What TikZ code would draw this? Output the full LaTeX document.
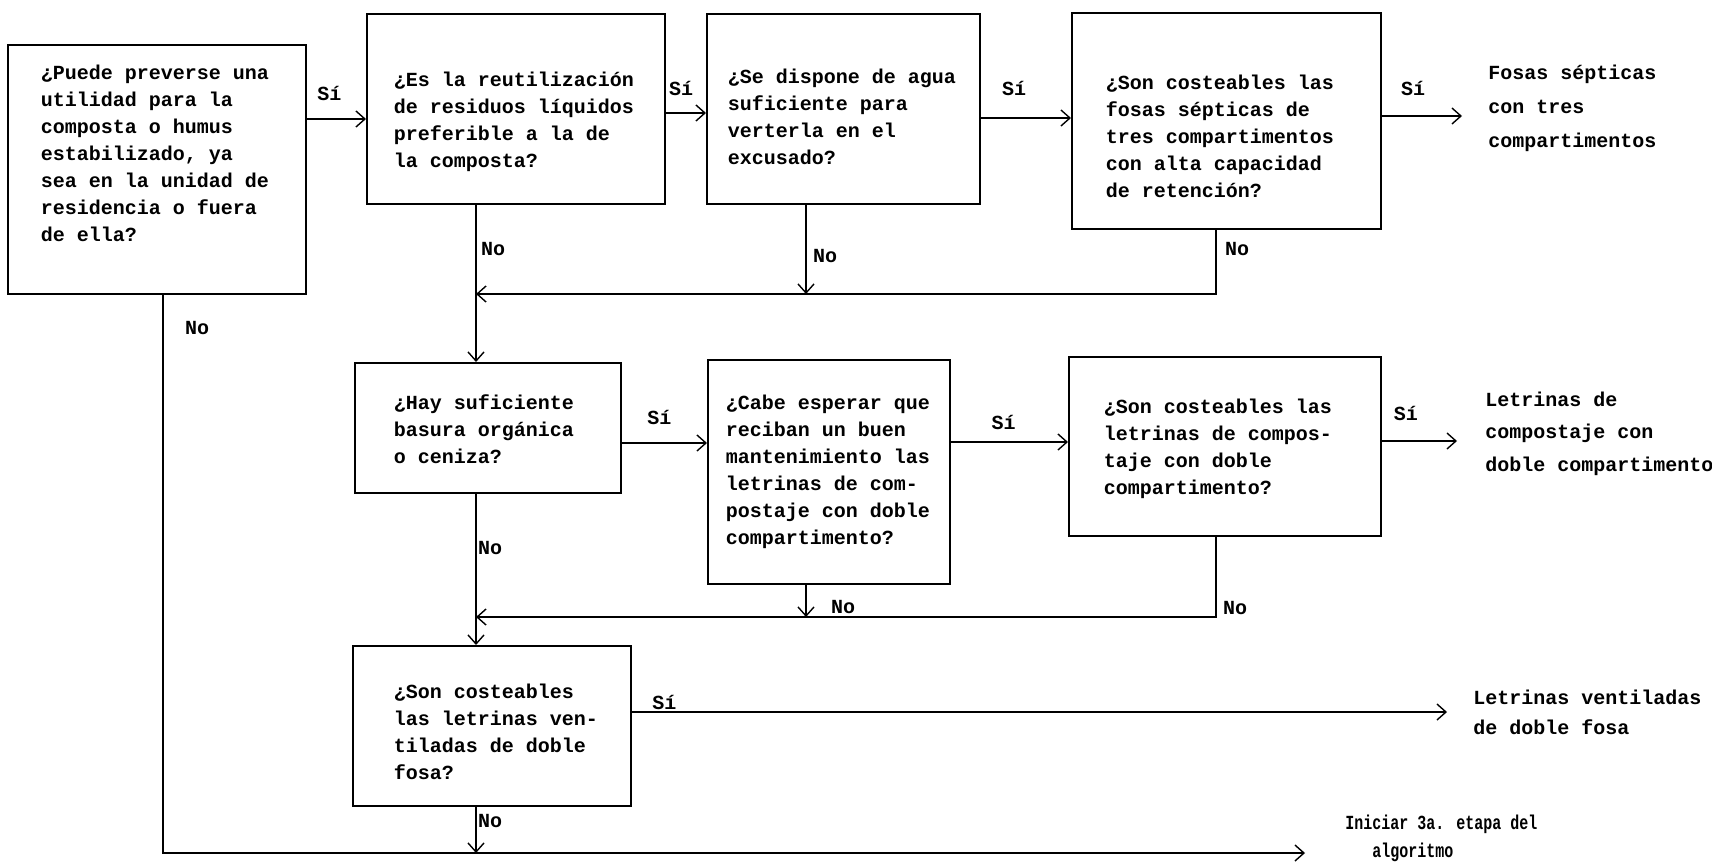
\documentclass[tikz,border=0pt]{standalone}
\usepackage{fontspec}
\setmainfont{Liberation Mono}[UprightFont=*-Bold]
\newfontfamily\narrowmono[FakeStretch=0.75,UprightFont=*-Bold]{Liberation Mono}
\usetikzlibrary{arrows.meta}
% #1 width, #2 height, #3 left pad, #4 first baseline from top, #5 text
\newcommand{\qtxt}[5]{\begin{minipage}[t][#2][t]{#1}\fontsize{10pt}{13.5pt}\selectfont\vspace*{\dimexpr#4-9.45pt\relax}\leftskip=#3\relax\rightskip=0pt plus 1fil\parindent=0pt\parfillskip=0pt plus 1fil\strut#5\par\end{minipage}}
\newcommand{\otxt}[2]{\begin{minipage}[t]{160pt}\fontsize{10pt}{#1}\selectfont\raggedright #2\end{minipage}}
\begin{document}
\begin{tikzpicture}[x=0.5pt,y=-0.5pt,
  qb/.style={draw, line width=0.9pt, inner sep=0pt, anchor=north west},
  ot/.style={inner sep=0pt, anchor=base west},
  lab/.style={inner sep=0pt, font=\fontsize{10pt}{12pt}\selectfont},
  arr/.style={draw, line width=0.7pt, -{Straight Barb[length=4.5pt,width=8pt]}}]
\path[fill=white,use as bounding box] (0,0) rectangle (1712,867);

% question boxes
\node[qb] (q1) at (7,44) {\qtxt{149pt}{124.5pt}{16.5pt}{17.5pt}{¿Puede preverse una\\utilidad para la\\composta o humus\\estabilizado, ya\\sea en la unidad de\\residencia o fuera\\de ella?}};
\node[qb] (q2) at (366,13) {\qtxt{149pt}{95pt}{13.5pt}{36.5pt}{¿Es la reutilización\\de residuos líquidos\\preferible a la de\\la composta?}};
\node[qb] (q3) at (706,13) {\qtxt{136.5pt}{95pt}{10.5pt}{35pt}{¿Se dispone de agua\\suficiente para\\verterla en el\\excusado?}};
\node[qb] (q4) at (1071,12) {\qtxt{154.5pt}{108pt}{17pt}{38.5pt}{¿Son costeables las\\fosas sépticas de\\tres compartimentos\\con alta capacidad\\de retención?}};
\node[qb] (q5) at (354,362) {\qtxt{133pt}{65pt}{19.5pt}{23.5pt}{¿Hay suficiente\\basura orgánica\\o ceniza?}};
\node[qb] (q6) at (707,359) {\qtxt{121pt}{112pt}{9pt}{25pt}{¿Cabe esperar que\\reciban un buen\\mantenimiento las\\letrinas de com-\\postaje con doble\\compartimento?}};
\node[qb] (q7) at (1068,356) {\qtxt{156pt}{89.5pt}{17.5pt}{28.5pt}{¿Son costeables las\\letrinas de compos-\\taje con doble\\compartimento?}};
\node[qb] (q8) at (352,645) {\qtxt{139pt}{80pt}{20.5pt}{26.5pt}{¿Son costeables\\las letrinas ven-\\tiladas de doble\\fosa?}};

% outcome texts
\node[ot] (o1) at (1488,79) {\otxt{17pt}{Fosas sépticas\\con tres\\compartimentos}};
\node[ot] (o2) at (1485,406) {\otxt{16.25pt}{Letrinas de\\compostaje con\\doble compartimento}};
\node[ot] (o3) at (1473,704) {\otxt{15pt}{Letrinas ventiladas\\de doble fosa}};
\node[ot] (o4) at (1345,829) {\otxt{14pt}{\narrowmono Iniciar 3a. etapa del\\\hspace*{13.5pt}algoritmo}};

% helper coordinates
\coordinate (h12) at (0,119);
\coordinate (h23) at (0,113);
\coordinate (h34) at (0,118);
\coordinate (h56) at (0,443);
\coordinate (h67) at (0,442);
\coordinate (m1) at (476,294);
\coordinate (m2) at (476,617);
\coordinate (v3) at (806,294);
\coordinate (v4) at (1216,294);
\coordinate (v6) at (806,617);
\coordinate (v7) at (1216,617);
\coordinate (v8) at (476,853);
\coordinate (v1) at (163,853);
\coordinate (e1) at (1462,116);
\coordinate (e2) at (1457,441);
\coordinate (e3) at (1447,712);
\coordinate (e4) at (1305,853);

% row 1
\draw[arr] (q1.east |- h12) -- node[lab,pos=.38,yshift=13pt] (l1) {Sí} (q2.west |- h12);
\draw[arr] (q2.east |- h23) -- node[lab,pos=.38,yshift=12.5pt] (l2) {Sí} (q3.west |- h23);
\draw[arr] (q3.east |- h34) -- node[lab,pos=.37,yshift=15pt] (l3) {Sí} (q4.west |- h34);
\draw[arr] (q4.east |- e1) -- node[lab,pos=.39,yshift=14pt] (l4) {Sí} (e1);
\draw[arr] (q2.south -| m1) -- node[lab,pos=.28,xshift=8.5pt] (l5) {No} (q5.north -| m1);
\draw[arr] (q3.south -| v3) -- node[lab,pos=.57,xshift=9.5pt] (l6) {No} (v3);
\draw[arr] (q4.south -| v4) -- node[lab,pos=.3,xshift=10.5pt] (l7) {No} (v4) -- (m1);

% row 2
\draw[arr] (q5.east |- h56) -- node[lab,pos=.44,yshift=13pt] (l8) {Sí} (q6.west |- h56);
\draw[arr] (q6.east |- h67) -- node[lab,pos=.45,yshift=10pt] (l9) {Sí} (q7.west |- h67);
\draw[arr] (q7.east |- e2) -- node[lab,pos=.32,yshift=14pt] (l10) {Sí} (e2);
\draw[arr] (q5.south -| m2) -- node[lab,pos=.36,xshift=7pt] (l11) {No} (q8.north -| m2);
\draw[arr] (q6.south -| v6) -- node[lab,pos=.7,xshift=18.5pt] (l12) {No} (v6);
\draw[arr] (q7.south -| v7) -- node[lab,pos=.89,xshift=9.5pt] (l13) {No} (v7) -- (m2);

% row 3
\draw[arr] (q8.east |- e3) -- node[lab,pos=.04,yshift=5pt] (l14) {Sí} (e3);
\draw[arr] (q8.south -| v8) -- node[lab,pos=.31,xshift=7pt] (l15) {No} (v8);
\draw[arr] (q1.south -| v1) -- node[lab,pos=.06,xshift=17pt] (l16) {No} (v1) -- (e4);
\end{tikzpicture}
\end{document}
